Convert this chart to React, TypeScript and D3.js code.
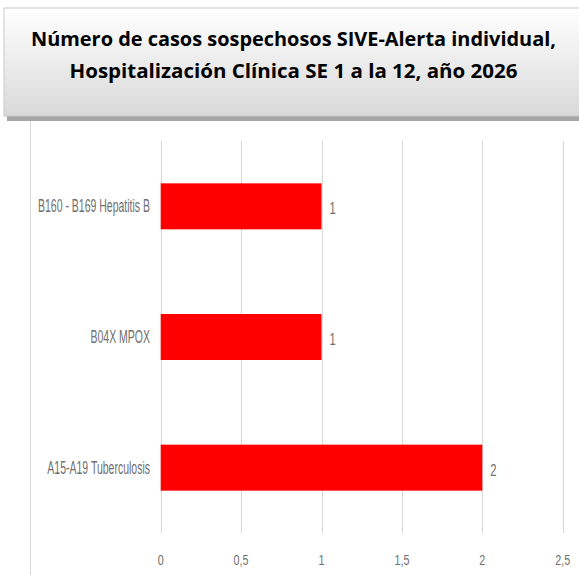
import React from "react";
import * as d3 from "d3";

// categories listed top to bottom as in the chart
const categories = ["B160 - B169 Hepatitis B", "B04X MPOX", "A15-A19 Tuberculosis"];
const casos = [1, 1, 2];
const xTicks = [0, 0.5, 1, 1.5, 2, 2.5];
const titleLines = [
  "Número de casos sospechosos SIVE-Alerta individual,",
  "Hospitalización Clínica SE 1 a la 12, año 2026",
];

const W = 579;
const H = 575;
const plot = { left: 160.7, right: 562.7, top: 141, bottom: 533 };

export default function App() {
  const x = d3.scaleLinear().domain([0, 2.5]).range([plot.left, plot.right]);
  const y = d3
    .scaleBand<string>()
    .domain(categories)
    .range([plot.top, plot.bottom])
    .paddingInner(0.648)
    .paddingOuter(0.324);

  const labelFont = "'Liberation Sans', Arial, sans-serif";
  const gray = "#707070";

  return (
    <svg
      width={W}
      height={H}
      style={{ position: "absolute", left: 0, top: 0, background: "#fff" }}
    >
      <defs>
        <linearGradient id="titleGrad" x1="0" y1="0" x2="0" y2="1">
          <stop offset="0" stopColor="#ffffff" />
          <stop offset="1" stopColor="#d9d9d9" />
        </linearGradient>
      </defs>

      {/* chart area border on the left */}
      <line x1={30.5} x2={30.5} y1={118} y2={H} stroke="#d9d9d9" strokeWidth={1} />

      {/* gridlines */}
      {xTicks.map((t) => (
        <line
          key={"g" + t}
          x1={Math.round(x(t)) + 0.5}
          x2={Math.round(x(t)) + 0.5}
          y1={plot.top}
          y2={plot.bottom}
          stroke="#d9d9d9"
          strokeWidth={1.2}
        />
      ))}

      {/* bars */}
      {categories.map((c, i) => (
        <rect
          key={c}
          x={x(0)}
          y={y(c)}
          width={x(casos[i]) - x(0)}
          height={y.bandwidth()}
          fill="#ff0000"
        />
      ))}

      {/* value labels */}
      {categories.map((c, i) => (
        <text
          key={"v" + c}
          transform={`translate(${x(casos[i]) + 8},${(y(c) ?? 0) + y.bandwidth() / 2 + 8}) scale(0.7,1)`}
          fontFamily={labelFont}
          fontSize={16}
          fill={gray}
        >
          {casos[i]}
        </text>
      ))}

      {/* category labels */}
      {categories.map((c) => (
        <text
          key={"c" + c}
          transform={`translate(150,${(y(c) ?? 0) + y.bandwidth() / 2 + 6}) scale(0.6,1)`}
          textAnchor="end"
          fontFamily={labelFont}
          fontSize={17.5}
          fill={gray}
        >
          {c}
        </text>
      ))}

      {/* x tick labels */}
      {xTicks.map((t) => (
        <text
          key={"t" + t}
          transform={`translate(${x(t)},565) scale(0.72,1)`}
          textAnchor="middle"
          fontFamily={labelFont}
          fontSize={15}
          fill={gray}
        >
          {String(t).replace(".", ",")}
        </text>
      ))}

      {/* title box with shadow */}
      <rect x={7} y={11} width={600} height={110} fill="#a6a6a6" />
      <rect x={4} y={8} width={600} height={108} fill="url(#titleGrad)" stroke="#c9c9c9" strokeWidth={1} />
      {titleLines.map((line, i) => (
        <text
          key={"title" + i}
          x={293.5}
          y={46 + i * 32}
          textAnchor="middle"
          fontFamily="'Open Sans', 'Noto Sans', sans-serif"
          fontWeight="bold"
          fontSize={20}
          fill="#000"
          textLength={i === 0 ? 525 : 448}
          lengthAdjust="spacingAndGlyphs"
        >
          {line}
        </text>
      ))}
    </svg>
  );
}
